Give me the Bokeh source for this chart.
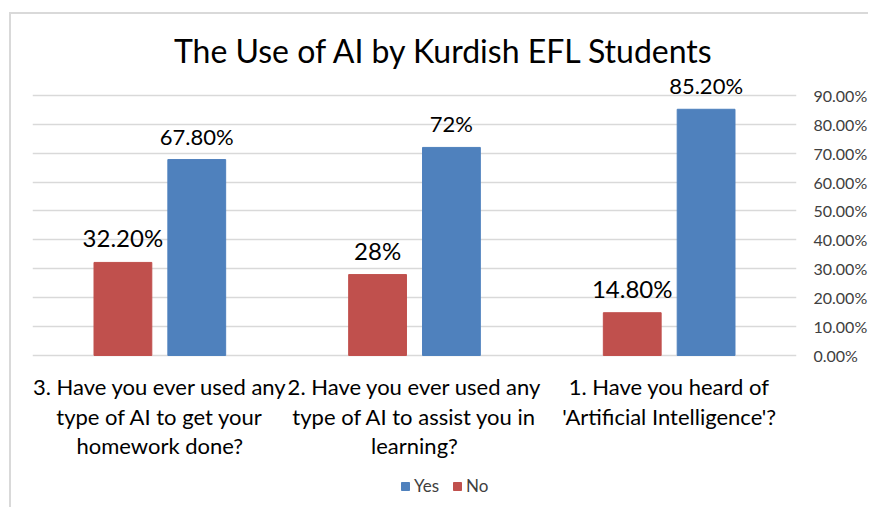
from bokeh.plotting import figure
from bokeh.models import (FactorRange, ColumnDataSource, FixedTicker, NumeralTickFormatter,
                          Legend, LegendItem, Label)
from bokeh.transform import dodge
from bokeh.core.properties import value
from bokeh.embed import file_html
from bokeh.resources import INLINE

# ---- data ----
categories = [
    "3. Have you ever used any\ntype of AI to get your\nhomework done?",
    "2. Have you ever used any\ntype of AI to assist you in\nlearning?",
    "1. Have you heard of\n'Artificial Intelligence'?",
]
yes_values = [0.678, 0.72, 0.852]
no_values = [0.322, 0.28, 0.148]
yes_labels = ["67.80%", "72%", "85.20%"]
no_labels = ["32.20%", "28%", "14.80%"]
y_ticks = [0.0, 0.1, 0.2, 0.3, 0.4, 0.5, 0.6, 0.7, 0.8, 0.9]
title_text = "The Use of AI by Kurdish EFL Students"
series_names = ["Yes", "No"]

BLUE = "#4F81BD"
RED = "#C0504D"
FONT = "Lato"

src = ColumnDataSource(dict(cat=categories, yes=yes_values, no=no_values,
                            yes_label=yes_labels, no_label=no_labels,
                            base=[0.0] * len(categories)))

p = figure(x_range=FactorRange(*categories), y_range=(-0.533, 1.18),
           width=859, height=495, output_backend="svg", toolbar_location=None,
           y_axis_location="right",
           min_border_left=21, min_border_right=72, min_border_top=0, min_border_bottom=0)
p.outline_line_color = None
p.background_fill_color = "white"
p.border_fill_color = "white"
p.styles = {"margin-left": "9px", "margin-top": "12px",
            "border-left": "2px solid #d9d9d9", "border-top": "2px solid #d9d9d9"}

off = 0.145
bw = 0.227
r_no = p.vbar(x=dodge("cat", -off, range=p.x_range), top="no", width=bw,
              fill_color=RED, line_color=RED, source=src)
r_yes = p.vbar(x=dodge("cat", off, range=p.x_range), top="yes", width=bw,
               fill_color=BLUE, line_color=BLUE, source=src)

# value labels
for col, lab, d, fs in (("no", "no_label", -off, "24px"), ("yes", "yes_label", off, "22px")):
    p.text(x=dodge("cat", d, range=p.x_range), y=col, text=lab, source=src,
           text_align="center", text_baseline="bottom", y_offset=-10,
           text_font=value(FONT), text_font_size=fs, text_color="#000000")

# category labels below the baseline
p.text(x="cat", y="base", text="cat", source=src, text_align="center",
       text_baseline="top", y_offset=18, text_font=value(FONT),
       text_font_size="22px", text_line_height=1.077, text_color="#000000")

title = Label(x=1.5, y=1.056, x_offset=30, text=title_text, text_align="center",
              text_baseline="middle", text_font=FONT, text_font_size="32px",
              text_color="#000000")
p.add_layout(title)

# y axis (right)
p.yaxis.ticker = FixedTicker(ticks=y_ticks)
p.yaxis.formatter = NumeralTickFormatter(format="0.00%")
p.yaxis.axis_line_color = None
p.yaxis.major_tick_line_color = None
p.yaxis.minor_tick_line_color = None
p.yaxis.major_tick_in = 0
p.yaxis.major_tick_out = 0
p.yaxis.major_label_standoff = 17
p.yaxis.major_label_text_font = FONT
p.yaxis.major_label_text_font_size = "16px"
p.yaxis.major_label_text_color = "#404040"

p.ygrid.ticker = FixedTicker(ticks=y_ticks)
p.ygrid.grid_line_color = "#D9D9D9"
p.ygrid.grid_line_width = 1.5
p.xgrid.grid_line_color = None
p.xaxis.visible = False

legend = Legend(items=[LegendItem(label=series_names[0], renderers=[r_yes]),
                       LegendItem(label=series_names[1], renderers=[r_no])],
                orientation="horizontal", location=(368, 13),
                glyph_width=10, glyph_height=10, label_height=10, label_standoff=4,
                spacing=13, padding=3, margin=0, border_line_color=None,
                background_fill_alpha=0, label_text_font=FONT,
                label_text_font_size="17px", label_text_color="#404040")
p.add_layout(legend)

open("out.html", "w").write(file_html(p, INLINE))
